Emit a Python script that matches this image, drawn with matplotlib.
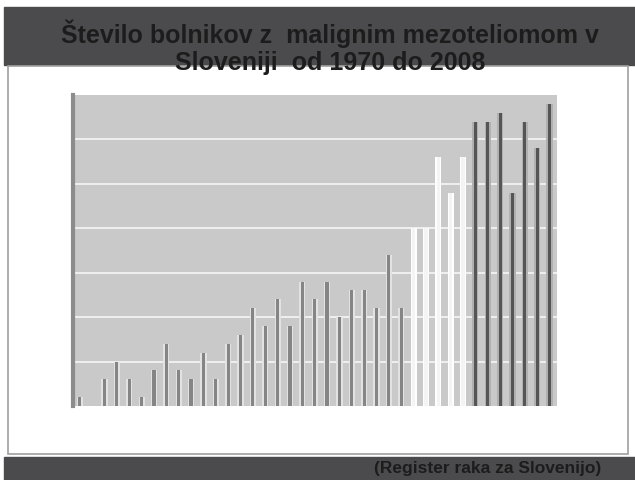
import matplotlib

matplotlib.use("Agg")
import matplotlib.pyplot as plt
from matplotlib.patches import Rectangle

# number of patients per year, 1970-2008
years = list(range(1970, 2009))
patients = [
    1, 0, 3, 5, 3, 1, 4, 7, 4, 3,
    6, 3, 7, 8, 11, 9, 12, 9, 14, 12,
    14, 10, 13, 13, 11, 17, 11, 20, 20, 28,
    24, 28, 32, 32, 33, 24, 32, 29, 34,
]
# three shading groups on the original slide
group_ends = [1996, 2001, 2008]
group_fill = ["#858585", "#f4f4f4", "#555555"]
group_edge = ["#e2e2e2", "#ffffff", "#b0b0b0"]

title = "Število bolnikov z  malignim mezoteliomom v\nSloveniji  od 1970 do 2008"
source = "(Register raka za Slovenijo)"

W, H = 635, 481
fig = plt.figure(figsize=(W / 100, H / 100), dpi=100)
fig.patch.set_facecolor("white")

band = "#4b4b4d"
# title band and source band
fig.patches.append(Rectangle((4 / W, 1 - 66 / H), 1, 58 / H,
                             transform=fig.transFigure, color=band, zorder=0))
fig.patches.append(Rectangle((4 / W, 0), 1, 23 / H,
                             transform=fig.transFigure, color=band, zorder=0))
# chart frame
fig.patches.append(Rectangle((8 / W, 1 - 455 / H), 620 / W, 388 / H,
                             transform=fig.transFigure, facecolor="white",
                             edgecolor="#a0a0a0", linewidth=1.2, zorder=0))

ax = fig.add_axes([73 / W, 1 - 407 / H, 484 / W, 311 / H])
ax.set_zorder(5)
ax.set_facecolor("#c9c9c9")

colors, edges = [], []
for y in years:
    for end, fc, ec in zip(group_ends, group_fill, group_edge):
        if y <= end:
            colors.append(fc)
            edges.append(ec)
            break

pos = list(range(len(years)))
ax.bar(pos, patients, width=0.5, color=edges, zorder=3)
ax.bar(pos, patients, width=0.26, color=colors, zorder=4)

ax.set_xlim(-0.55, len(years) - 0.4)
ax.set_ylim(0, 35)
ax.set_yticks(range(5, 35, 5))
ax.yaxis.grid(True, color="#f2f2f2", linewidth=1.3, zorder=1)
ax.set_axisbelow(True)
ax.tick_params(left=False, bottom=False, labelleft=False, labelbottom=False)
for side in ["top", "right", "bottom"]:
    ax.spines[side].set_visible(False)
ax.spines["left"].set_color("#8c8c8c")
ax.spines["left"].set_linewidth(3)

fig.text(330 / W, 1 - 47.5 / H, title, ha="center", va="center",
         fontsize=18, fontweight="bold", color="#1c1c1c",
         family="Liberation Sans", linespacing=1.15, zorder=10)
fig.text(488 / W, 1 - 469 / H, source, ha="center", va="center",
         fontsize=12.5, fontweight="bold", color="#1c1c1c",
         family="Liberation Sans", zorder=10)

fig.savefig("out.png", dpi=100)
